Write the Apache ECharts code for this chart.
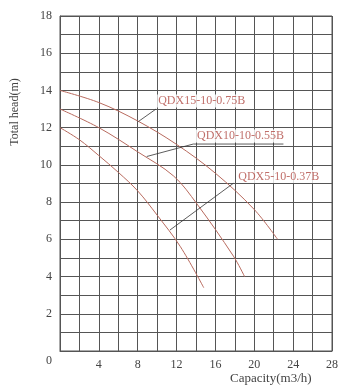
<!DOCTYPE html>
<html>
<head>
<meta charset="utf-8">
<script src="https://cdn.jsdelivr.net/npm/echarts@6/dist/echarts.min.js"></script>
<style>html,body{margin:0;padding:0;background:#fff}#c{width:358px;height:390px}</style>
</head>
<body>
<div id="c"></div>
<script>
// Curve data (capacity m3/h, total head m)
const q075 = [0, 4, 8, 12, 16, 20, 22.4];
const h075 = [14, 13.35, 12.36, 11.1, 9.55, 7.6, 6.0];
const q055 = [0, 4, 8, 11.7, 14.1, 17.85, 19];
const h055 = [13, 12.0, 10.7, 9.4, 7.9, 5.1, 4.0];
const q037 = [0, 2, 4, 6, 8, 10, 12.4, 14.8];
const h037 = [12, 11.35, 10.5, 9.6, 8.6, 7.3, 5.6, 3.4];
const names = ['QDX15-10-0.75B', 'QDX10-10-0.55B', 'QDX5-10-0.37B'];
// annotation leader lines (data coordinates)
const leader075 = [[8.07, 12.33], [9.88, 13.0]];
const leader055 = [[8.93, 10.45], [13.72, 11.12], [23.0, 11.12]];
const leader037 = [[11.32, 6.5], [17.84, 9.01]];
const labelPos = [[10.0, 13.43], [14.0, 11.55], [18.25, 9.37]];
const xTitle = 'Capacity(m3/h)';
const yTitle = 'Total head(m)';

const zip = (a, b) => a.map((v, i) => [v, b[i]]);
const curveColor = '#b86a5e';
const gridColor = '#555';
const font = 'Liberation Serif';

const chart = echarts.init(document.getElementById('c'));
const curve = (x, y) => ({
  type: 'line', data: zip(x, y), smooth: 0.35, symbol: 'none',
  lineStyle: { color: curveColor, width: 1 }, silent: true
});
const leader = d => ({
  type: 'line', data: d, symbol: 'none', smooth: false,
  lineStyle: { color: '#333', width: 0.8 }, silent: true
});
chart.setOption({
  animation: false,
  grid: { left: 60, right: 26, top: 16, bottom: 39, show: true, borderColor: gridColor, borderWidth: 1 },
  xAxis: {
    type: 'value', min: 0, max: 28, interval: 2,
    axisLine: { lineStyle: { color: gridColor } },
    axisTick: { show: false },
    splitLine: { lineStyle: { color: gridColor, width: 1 } },
    axisLabel: {
      color: '#444', fontFamily: font, fontSize: 12, margin: 8,
      formatter: v => (v % 4 === 0 && v !== 0) ? String(v) : ''
    }
  },
  yAxis: {
    type: 'value', min: 0, max: 18, interval: 1,
    axisLine: { lineStyle: { color: gridColor } },
    axisTick: { show: false },
    splitLine: { lineStyle: { color: gridColor, width: 1 } },
    axisLabel: {
      color: '#444', fontFamily: font, fontSize: 12, margin: 8,
      formatter: v => v === 0 ? '{z|0}' : (v % 2 === 0 ? String(v) : ''),
      rich: { z: { padding: [20, 0, 0, 0], fontFamily: font, fontSize: 12, color: '#444' } }
    }
  },
  graphic: [
    { type: 'text', left: 230, top: 372, style: { text: xTitle, font: '13px "Liberation Serif"', fill: '#444' } },
    { type: 'text', x: 15, y: 112, rotation: Math.PI / 2, style: { text: yTitle, font: '12px "Liberation Serif"', fill: '#444', align: 'center', verticalAlign: 'middle' } }
  ],
  series: [
    curve(q075, h075), curve(q055, h055), curve(q037, h037),
    leader(leader075), leader(leader055), leader(leader037),
    {
      type: 'scatter', symbolSize: 0, silent: true, z: 5,
      data: labelPos.map((p, i) => ({ value: p, name: names[i] })),
      label: {
        show: true, position: 'right', distance: 0, formatter: '{b}',
        color: '#b04a44', fontFamily: font, fontSize: 12,
        backgroundColor: '#fff', padding: [1, 1, 0, 1]
      }
    }
  ]
});
</script>
</body>
</html>
